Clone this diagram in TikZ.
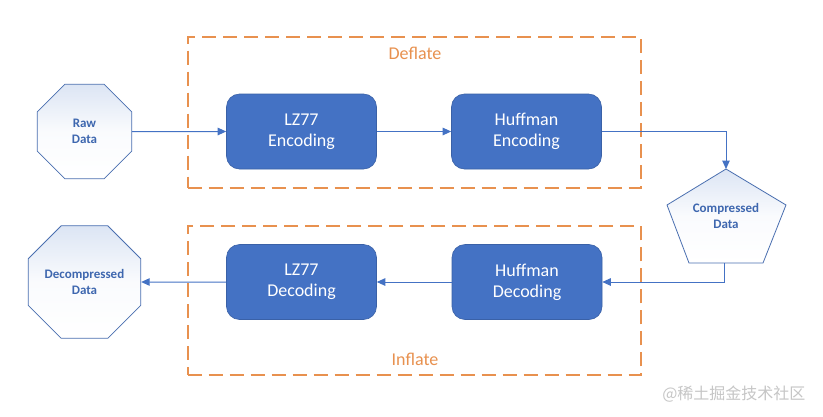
\documentclass[tikz,border=0pt]{standalone}
\usepackage{fontspec}
\setmainfont{Carlito}
\newfontfamily\cjkfont{Noto Sans CJK SC}
\usetikzlibrary{shapes.geometric,arrows.meta}
\definecolor{boxblue}{HTML}{4472C4}
\definecolor{edgeblue}{HTML}{4A6FB0}
\definecolor{txtblue}{HTML}{3E67AF}
\definecolor{dashorange}{HTML}{E8914F}
\definecolor{lightfill}{HTML}{DCE5F4}
\begin{document}
\begin{tikzpicture}[x=1pt,y=-1pt,
  procbox/.style={rectangle,rounded corners=13pt,fill=boxblue,draw=boxblue!85!black,line width=0.6pt,
    minimum width=150pt,minimum height=75pt,text=white,align=center,font=\fontsize{18}{21}\selectfont},
  octo/.style={regular polygon,regular polygon sides=8,minimum size=102.3pt,inner sep=0pt,
    draw=edgeblue,line width=0.8pt,top color=lightfill,bottom color=white,middle color=white!85!lightfill,
    text=txtblue,align=center,font=\bfseries\fontsize{13}{15.5}\selectfont},
  pentfill/.style={draw=edgeblue,line width=0.8pt,top color=lightfill,bottom color=white,middle color=white!85!lightfill},
  pentlabel/.style={text=txtblue,align=center,font=\bfseries\fontsize{13}{15.5}\selectfont},
  flow/.style={draw=boxblue,line width=1pt,-{Triangle[length=8.5pt,width=7.5pt]}},
  groupbox/.style={draw=dashorange,line width=2pt,dash pattern=on 14pt off 7pt,rectangle,inner sep=0pt},
  grouplabel/.style={text=dashorange,font=\fontsize{18}{21}\selectfont}]
\fill[white] (0,0) rectangle (823,416);
\useasboundingbox (0,0) rectangle (823,416);

% group frames
\node[groupbox,minimum width=453pt,minimum height=151pt] (deflatebox) at (414,112) {};
\node[groupbox,minimum width=453pt,minimum height=149.5pt] (inflatebox) at (414,300.7) {};
\node[grouplabel] (deflatelbl) at (415,53) {Deflate};
\node[grouplabel] (inflatelbl) at (415,359) {Inflate};

% process boxes
\node[procbox] (lz1) at (301.5,131.5) {LZ77\\Encoding};
\node[procbox] (hf1) at (526.5,131.5) {Huffman\\Encoding};
\node[procbox] (hf2) at (527,282) {Huffman\\Decoding};
\node[procbox] (lz2) at (301.5,282) {LZ77\\Decoding};

% data shapes
\node[octo] (raw) at (84.5,131.5) {Raw\\Data};
\node[octo] (dec) at (84.5,282) {Decompressed\\Data};

\coordinate (cdtop) at (726,169);
\coordinate (cdright) at (786,205);
\coordinate (cdbr) at (763,263);
\coordinate (cdbl) at (689,263);
\coordinate (cdleft) at (667,205);
\coordinate (cdbot) at (724.5,263);
\path[pentfill] (cdtop) -- (cdright) -- (cdbr) -- (cdbl) -- (cdleft) -- cycle;
\node[pentlabel] (cd) at (726,216) {Compressed\\Data};

% connectors
\draw[flow] (raw) -- (lz1);
\draw[flow] (lz1) -- (hf1);
\draw[flow] (hf1.east) -| (cdtop);
\draw[flow] (cdbot) |- (hf2.east);
\draw[flow] (hf2) -- (lz2);
\draw[flow] (lz2) -- (dec);

% watermark
\node[anchor=east,text=gray!45,font=\cjkfont\fontsize{16}{16}\selectfont] (wm) at (809,394) {@稀土掘金技术社区};
\end{tikzpicture}
\end{document}
